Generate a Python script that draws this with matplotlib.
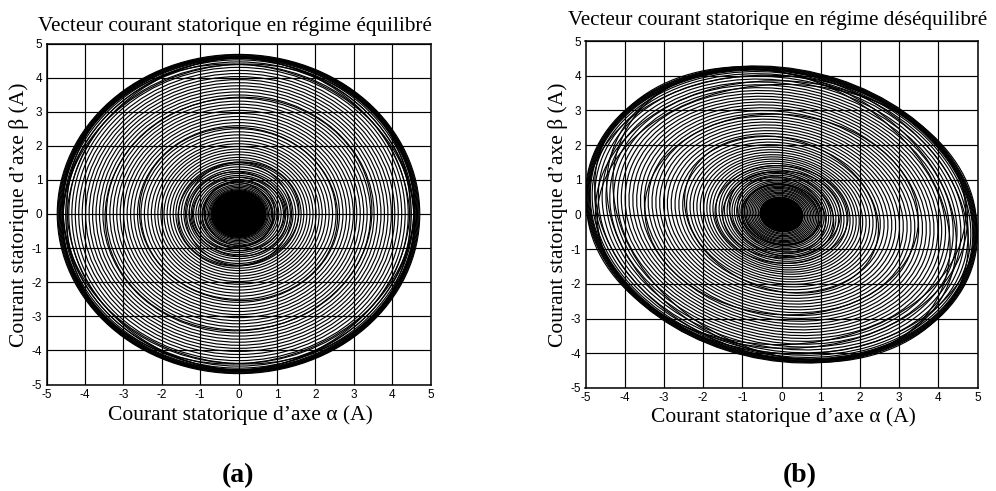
import matplotlib
matplotlib.use("Agg")
import matplotlib.pyplot as plt
from matplotlib.patches import Ellipse

# Traces approximated as closed rings: radii, turn by turn.
ticks = [-5, -4, -3, -2, -1, 0, 1, 2, 3, 4, 5]

# panel a, semi axes of each ring (A)
rings_a_x = [4.72, 4.70, 4.68, 4.66, 4.64, 4.62, 4.60, 4.56, 4.50, 4.42, 4.34, 4.25, 4.16, 4.07, 3.98,
             3.89, 3.80, 3.71, 3.62, 3.53, 3.44, 3.35, 3.26, 3.17, 3.08, 2.99, 2.90, 2.81, 2.72, 2.63,
             2.54, 2.45, 2.36, 2.27, 2.18, 2.10, 2.02, 1.94, 1.86, 1.78, 1.70, 1.63, 1.56, 1.49, 1.42,
             1.35, 1.29, 1.23, 1.17, 1.11, 1.05, 1.00, 0.95, 0.90, 0.86, 0.82, 0.78, 0.75, 0.72]
rings_a_y = [4.68, 4.66, 4.64, 4.62, 4.60, 4.58, 4.56, 4.52, 4.46, 4.38, 4.30, 4.21, 4.12, 4.03, 3.94,
             3.85, 3.76, 3.67, 3.58, 3.49, 3.40, 3.31, 3.22, 3.13, 3.04, 2.95, 2.86, 2.77, 2.68, 2.59,
             2.50, 2.41, 2.32, 2.23, 2.14, 2.06, 1.98, 1.90, 1.82, 1.74, 1.66, 1.59, 1.52, 1.45, 1.38,
             1.31, 1.25, 1.19, 1.13, 1.07, 1.01, 0.96, 0.91, 0.86, 0.82, 0.78, 0.74, 0.71, 0.68]
# rings of panel a that lean away from the others: semi major, semi minor, angle
lean_a_major = [4.68, 4.68, 4.66, 4.66, 4.62, 4.62, 3.50, 2.60, 1.60, 1.30, 1.50, 1.20, 1.00, 0.95]
lean_a_minor = [4.48, 4.48, 4.40, 4.40, 4.35, 4.35, 3.40, 2.52, 1.50, 1.21, 1.38, 1.08, 0.92, 0.87]
lean_a_angle = [45, 135, 60, 120, 25, 155, 30, 150, 30, 150, 90, 0, 60, 120]
# solid black middle of panel a
core_a = [0.70, 0.68]

# panel b, semi major and semi minor of each ring (A), tilted
rings_b_major = [5.10, 5.08, 5.06, 5.04, 5.02, 5.00, 4.98, 4.93, 4.86, 4.77, 4.67, 4.57, 4.47, 4.37, 4.27,
                 4.17, 4.07, 3.97, 3.87, 3.77, 3.67, 3.57, 3.47, 3.37, 3.27, 3.17, 3.07, 2.97, 2.87, 2.77,
                 2.67, 2.57, 2.47, 2.38, 2.29, 2.20, 2.11, 2.02, 1.94, 1.86, 1.78, 1.70, 1.62, 1.55, 1.48,
                 1.41, 1.34, 1.28, 1.22, 1.16, 1.10, 1.05, 1.00, 0.96, 0.92, 0.88, 0.84, 0.80, 0.76, 0.72,
                 0.68, 0.64, 0.60, 0.56]
rings_b_minor = [4.16, 4.14, 4.12, 4.10, 4.08, 4.06, 4.04, 4.00, 3.94, 3.87, 3.79, 3.71, 3.63, 3.55, 3.47,
                 3.39, 3.31, 3.23, 3.15, 3.07, 2.99, 2.91, 2.83, 2.75, 2.67, 2.59, 2.51, 2.43, 2.35, 2.27,
                 2.19, 2.11, 2.03, 1.96, 1.89, 1.82, 1.75, 1.68, 1.62, 1.56, 1.50, 1.44, 1.38, 1.32, 1.26,
                 1.21, 1.16, 1.11, 1.06, 1.01, 0.96, 0.92, 0.88, 0.84, 0.80, 0.77, 0.74, 0.70, 0.67, 0.63,
                 0.60, 0.56, 0.53, 0.49]
tilt_b = -20
lean_b_major = [5.00, 5.00, 4.75, 4.75, 4.70, 4.70, 3.50, 2.60, 1.70, 1.40, 1.50, 1.20, 1.02, 0.98]
lean_b_minor = [3.98, 3.98, 3.85, 3.85, 3.75, 3.75, 2.88, 2.12, 1.40, 1.14, 1.25, 1.00, 0.86, 0.84]
lean_b_angle = [-30, -10, -36, -4, -42, 2, -8, -32, -8, -32, 0, -40, -10, -30]
core_b = [0.55, 0.48]

plt.rcParams["font.family"] = "Liberation Serif"
plt.rcParams["axes.unicode_minus"] = False
W, H = 996, 491
fig = plt.figure(figsize=(W / 100, H / 100), dpi=100, facecolor="white")


def make_axes(left, right, top, bottom):
    ax = fig.add_axes([left / W, 1 - bottom / H, (right - left) / W, (bottom - top) / H])
    ax.set_xlim(-5, 5)
    ax.set_ylim(-5, 5)
    ax.set_xticks(ticks)
    ax.set_yticks(ticks)
    ax.grid(True, color="black", linewidth=0.85)
    ax.set_axisbelow(True)
    ax.tick_params(length=0, pad=3, labelsize=8.5, labelfontfamily="Liberation Sans")
    for spine in ax.spines.values():
        spine.set_linewidth(1.1)
        spine.set_zorder(5)
    return ax


def draw_rings(ax, widths, heights, angles):
    for w, h, a in zip(widths, heights, angles):
        ax.add_patch(Ellipse((0, 0), 2 * w, 2 * h, angle=a, fill=False, edgecolor="black", linewidth=0.85))


ax_a = make_axes(46.5, 430.5, 43.5, 384.5)
draw_rings(ax_a, rings_a_x, rings_a_y, [0] * len(rings_a_x))
draw_rings(ax_a, lean_a_major, lean_a_minor, lean_a_angle)
ax_a.add_patch(Ellipse((0, 0), 2 * core_a[0], 2 * core_a[1], facecolor="black", edgecolor="black"))

ax_b = make_axes(585.5, 977.5, 41, 388)
draw_rings(ax_b, rings_b_major, rings_b_minor, [tilt_b] * len(rings_b_major))
draw_rings(ax_b, lean_b_major, lean_b_minor, lean_b_angle)
ax_b.add_patch(Ellipse((0, 0), 2 * core_b[0], 2 * core_b[1], angle=tilt_b, facecolor="black", edgecolor="black"))

fig.text(235 / W, 1 - 27 / H, "Vecteur courant statorique en régime équilibré", ha="center", va="center", fontsize=15.3)
fig.text(778 / W, 1 - 21 / H, "Vecteur courant statorique en régime déséquilibré", ha="center", va="center", fontsize=15.1)
fig.text(240 / W, 1 - 415 / H, "Courant statorique d’axe α (A)", ha="center", va="center", fontsize=15.5)
fig.text(783 / W, 1 - 417 / H, "Courant statorique d’axe α (A)", ha="center", va="center", fontsize=15.5)
fig.text(19 / W, 1 - 215 / H, "Courant statorique d’axe β (A)", ha="center", va="center", rotation=90, fontsize=15.5)
fig.text(558 / W, 1 - 215 / H, "Courant statorique d’axe β (A)", ha="center", va="center", rotation=90, fontsize=15.5)
fig.text(238 / W, 1 - 476 / H, "(a)", ha="center", va="center", fontsize=20, fontweight="bold")
fig.text(800 / W, 1 - 476 / H, "(b)", ha="center", va="center", fontsize=20, fontweight="bold")

fig.savefig("out.png", dpi=100)
